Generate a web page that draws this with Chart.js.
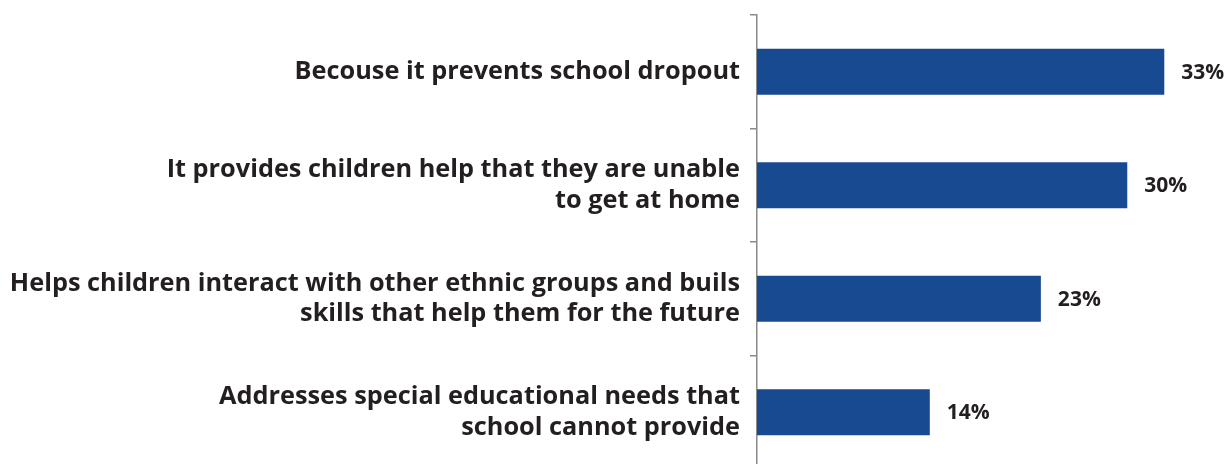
<!DOCTYPE html>
<html>
<head>
<meta charset="utf-8">
<script src="https://cdn.jsdelivr.net/npm/chart.js@4/dist/chart.umd.min.js"></script>
<style>
html,body{margin:0;padding:0;background:#fff;overflow:hidden;}
#wrap{position:relative;width:1230px;height:470px;}
</style>
</head>
<body>
<div id="wrap"><canvas id="c"></canvas></div>
<script>
const categories = [
  ["Becouse it prevents school dropout"],
  ["It provides children help that they are unable", "to get at home"],
  ["Helps children interact with other ethnic groups and buils", "skills that help them for the future"],
  ["Addresses special educational needs that", "school cannot provide"]
];
const values = [33, 30, 23, 14];
const valueLabels = ["33%", "30%", "23%", "14%"];

const FONT = '"Open Sans", Lato, sans-serif';

const barLabels = {
  id: 'barLabels',
  afterDatasetsDraw(chart) {
    const ctx = chart.ctx;
    const meta = chart.getDatasetMeta(0);
    ctx.save();
    ctx.font = 'bold 21px ' + FONT;
    ctx.fillStyle = '#231F20';
    ctx.textAlign = 'left';
    ctx.textBaseline = 'middle';
    meta.data.forEach((bar, i) => {
      ctx.fillText(valueLabels[i], bar.x + 17, bar.y + 1);
    });
    ctx.restore();
  }
};

new Chart(document.getElementById('c'), {
  type: 'bar',
  data: {
    labels: categories,
    datasets: [{
      data: values,
      backgroundColor: '#174A91',
      borderWidth: 0,
      categoryPercentage: 1,
      barPercentage: 0.405
    }]
  },
  options: {
    indexAxis: 'y',
    responsive: true,
    maintainAspectRatio: false,
    animation: false,
    layout: { padding: { top: 15, right: 4, bottom: 1, left: 0 } },
    plugins: { legend: { display: false }, tooltip: { enabled: false } },
    scales: {
      x: {
        display: false,
        min: 0,
        max: 38
      },
      y: {
        afterFit(scale) {
          scale.width = 757;
          scale.paddingTop = 0;
          scale.paddingBottom = 0;
        },
        grid: {
          offset: true,
          drawOnChartArea: false,
          drawTicks: true,
          tickLength: 7,
          color: '#8a8a8a',
          lineWidth: 1.5
        },
        border: { display: true, color: '#8a8a8a', width: 1.5 },
        ticks: {
          color: '#231F20',
          font: { family: FONT, size: 25.3, weight: 'bold', lineHeight: 1.2 },
          padding: 10,
          autoSkip: false
        }
      }
    }
  },
  plugins: [barLabels]
});
</script>
</body>
</html>
